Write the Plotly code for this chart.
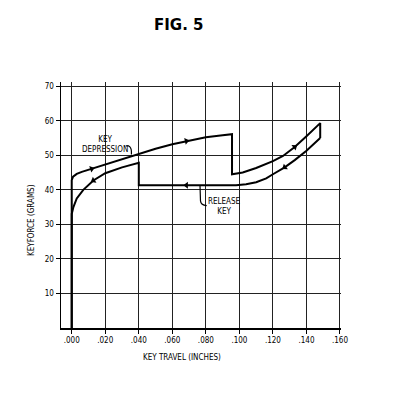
import numpy as np
import plotly.graph_objects as go

# ---- data ----
depression_x = [0.0, 0.0, 0.0008, 0.003, 0.006, 0.012, 0.020, 0.030, 0.040, 0.050, 0.060,
                0.070, 0.080, 0.090, 0.0956, 0.0956, 0.102, 0.110, 0.116, 0.120, 0.126,
                0.133, 0.140, 0.1482, 0.1482]
depression_y = [0.0, 42.8, 43.8, 44.6, 45.2, 46.1, 47.4, 49.0, 50.5, 51.9, 53.2,
                54.3, 55.2, 55.8, 56.1, 44.5, 45.0, 46.3, 47.4, 48.3, 49.8,
                52.4, 55.5, 59.3, 55.0]
release_x = [0.1482, 0.140, 0.133, 0.127, 0.120, 0.116, 0.110, 0.104, 0.098, 0.040,
             0.040, 0.030, 0.020, 0.0129, 0.0069, 0.003, 0.001, 0.0, 0.0]
release_y = [55.0, 51.3, 48.6, 46.5, 44.5, 43.3, 42.2, 41.6, 41.35, 41.3,
             47.8, 46.5, 44.8, 42.7, 40.0, 37.5, 35.0, 33.0, 0.0]

# arrowheads along the curves (x positions)
depression_arrow_x = [0.0119, 0.0684, 0.133]
release_arrow_x = [0.127, 0.0684, 0.0129]

x_ticks = [0.0, 0.02, 0.04, 0.06, 0.08, 0.10, 0.12, 0.14, 0.16]
x_tick_text = [".000", ".020", ".040", ".060", ".080", ".100", ".120", ".140", ".160"]
y_ticks = [10, 20, 30, 40, 50, 60, 70]
y_tick_text = ["10", "20", "30", "40", "50", "60", "70"]

X_RANGE = [-0.0064, 0.1606]
Y_RANGE = [0, 71.2]
ML, MR, MT, MB = 61, 55, 82, 73
W, H = 396, 401
PW, PH = W - ML - MR, H - MT - MB
SX = PW / (X_RANGE[1] - X_RANGE[0])
SY = PH / (Y_RANGE[1] - Y_RANGE[0])

LABEL_FONT = "DejaVu Sans Condensed, Liberation Sans Narrow, DejaVu Sans, sans-serif"


def px_to_paper(px, py):
    return (px - ML) / PW, (H - MB - py) / PH


def arrow_points(xs, ys, arrow_xs):
    """Locate arrowheads on a polyline and compute their screen angle."""
    xs = np.asarray(xs, float)
    ys = np.asarray(ys, float)
    out_x, out_y, out_a = [], [], []
    for ax in arrow_xs:
        for i in range(len(xs) - 1):
            x0, x1 = xs[i], xs[i + 1]
            if x0 == x1:
                continue
            if min(x0, x1) <= ax <= max(x0, x1):
                t = (ax - x0) / (x1 - x0)
                y = ys[i] + t * (ys[i + 1] - ys[i])
                dx = (x1 - x0) * SX
                dy = (ys[i + 1] - ys[i]) * SY
                ang = np.degrees(np.arctan2(dx, dy))
                out_x.append(ax)
                out_y.append(y)
                out_a.append(float(ang))
                break
    return out_x, out_y, out_a


fig = go.Figure()
fig.add_trace(go.Scatter(x=depression_x, y=depression_y, mode="lines",
                         line=dict(color="black", width=2), name="Key depression",
                         showlegend=False))
fig.add_trace(go.Scatter(x=release_x, y=release_y, mode="lines",
                         line=dict(color="black", width=2), name="Release key",
                         showlegend=False))

for xs, ys, axs in [(depression_x, depression_y, depression_arrow_x),
                    (release_x, release_y, release_arrow_x)]:
    px, py, pa = arrow_points(xs, ys, axs)
    fig.add_trace(go.Scatter(x=px, y=py, mode="markers",
                             marker=dict(symbol="triangle-up", size=6, color="black",
                                         angle=pa, line=dict(width=0)),
                             showlegend=False, hoverinfo="skip"))

# brackets linking labels to curves
fig.add_shape(type="path", xref="x", yref="y",
              path="M 0.0322,52.7 L 0.0340,52.7 Q 0.0356,52.3 0.0356,51.0 L 0.0356,50.2",
              line=dict(color="black", width=1.2))
fig.add_shape(type="path", xref="x", yref="y",
              path="M 0.0765,41.3 L 0.0768,36.8 Q 0.0770,35.6 0.0805,35.4",
              line=dict(color="black", width=1.2))

fig.add_annotation(x=0.0199, y=53.0, xref="x", yref="y", showarrow=False,
                   text="KEY<br>DEPRESSION", align="center",
                   xanchor="center", yanchor="middle",
                   font=dict(family=LABEL_FONT, size=8, color="black"))
fig.add_annotation(x=0.0910, y=35.2, xref="x", yref="y", showarrow=False,
                   text="RELEASE<br>KEY", align="center",
                   xanchor="center", yanchor="middle",
                   font=dict(family=LABEL_FONT, size=8, color="black"))

tx, ty = px_to_paper(179, 25)
fig.add_annotation(x=tx, y=ty, xref="paper", yref="paper", showarrow=False,
                   xanchor="center", yanchor="middle",
                   text="<b>FIG. 5</b>", font=dict(family="DejaVu Sans", size=15, color="black"))
tx, ty = px_to_paper(182, 357)
fig.add_annotation(x=tx, y=ty, xref="paper", yref="paper", showarrow=False,
                   xanchor="center", yanchor="middle",
                   text="KEY TRAVEL (INCHES)",
                   font=dict(family=LABEL_FONT, size=8, color="black"))
tx, ty = px_to_paper(31, 220)
fig.add_annotation(x=tx, y=ty, xref="paper", yref="paper", showarrow=False,
                   xanchor="center", yanchor="middle", textangle=-90,
                   text="KEYFORCE (GRAMS)",
                   font=dict(family=LABEL_FONT, size=8, color="black"))

tick_font = dict(family=LABEL_FONT, size=8, color="black")
fig.update_xaxes(range=X_RANGE, tickvals=x_ticks, ticktext=x_tick_text,
                 showgrid=True, gridcolor="#222", gridwidth=1,
                 showline=True, linecolor="black", linewidth=1.5,
                 ticks="outside", ticklen=4, tickcolor="black", tickwidth=1,
                 zeroline=False, fixedrange=True, tickfont=tick_font)
fig.update_yaxes(range=Y_RANGE, tickvals=y_ticks, ticktext=y_tick_text,
                 showgrid=True, gridcolor="#222", gridwidth=1,
                 showline=True, linecolor="black", linewidth=1.5,
                 ticks="outside", ticklen=4, tickcolor="black", tickwidth=1,
                 zeroline=False, fixedrange=True, tickfont=tick_font)

fig.update_layout(width=W, height=H, margin=dict(l=ML, r=MR, t=MT, b=MB),
                  paper_bgcolor="white", plot_bgcolor="white", showlegend=False)

fig.write_html("out.html", config={"displayModeBar": False, "staticPlot": True},
               post_script="document.body.style.margin='0';")
